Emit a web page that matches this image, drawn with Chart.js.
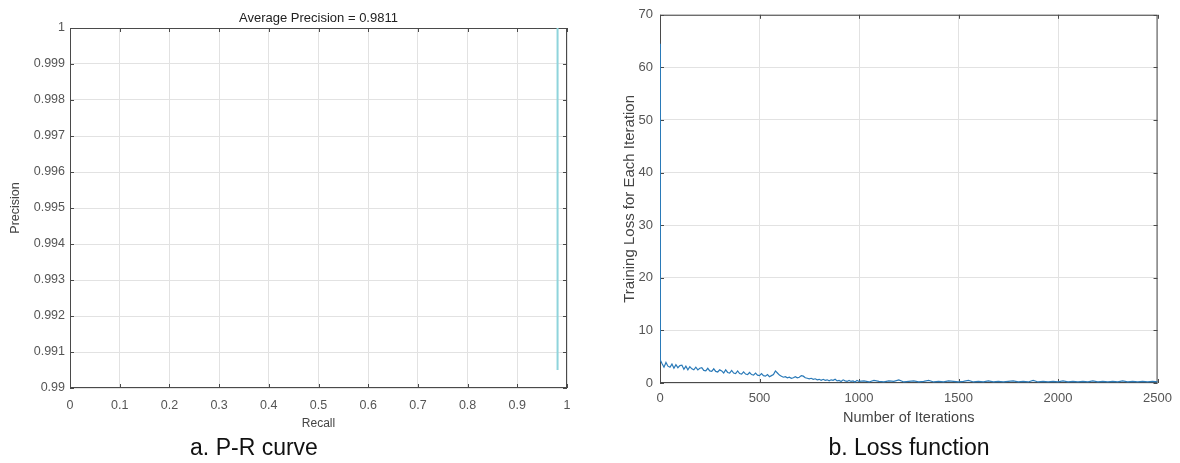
<!DOCTYPE html>
<html>
<head>
<meta charset="utf-8">
<script src="https://cdn.jsdelivr.net/npm/chart.js@4/dist/chart.umd.min.js"></script>
<style>
  body { margin: 0; background: #fff; width: 1180px; height: 463px; overflow: hidden; font-family: "Liberation Sans", Arial, sans-serif; }
  .panel { position: absolute; top: 0; width: 590px; height: 440px; }
  .caption { position: absolute; top: 434px; width: 400px; text-align: center; font-size: 23px; color: #111; }
</style>
</head>
<body>
<div class="panel" style="left:0"><canvas id="prChart" width="590" height="440"></canvas></div>
<div class="panel" style="left:590px"><canvas id="lossChart" width="590" height="440"></canvas></div>
<div class="caption" style="left:54px">a. P-R curve</div>
<div class="caption" style="left:709px">b. Loss function</div>
<script>
// --- DATA ---
const recallTicks = [0, 0.1, 0.2, 0.3, 0.4, 0.5, 0.6, 0.7, 0.8, 0.9, 1];
const precisionTicks = [0.99, 0.991, 0.992, 0.993, 0.994, 0.995, 0.996, 0.997, 0.998, 0.999, 1];
const prRecall = [0.981, 0.981];
const prPrecision = [1, 0.9905];

const iterTicks = [0, 500, 1000, 1500, 2000, 2500];
const lossTicks = [0, 10, 20, 30, 40, 50, 60, 70];
const iterations = [
    0, 2, 10, 20, 30, 40, 50, 60, 70, 80, 90, 100,
    110, 120, 130, 140, 150, 160, 170, 180, 190, 200,
    210, 220, 230, 240, 250, 260, 270, 280, 290, 300,
    310, 320, 330, 340, 350, 360, 370, 380, 390, 400,
    410, 420, 430, 440, 450, 460, 470, 480, 490, 500,
    510, 520, 530, 540, 550, 560, 570, 580, 590, 600,
    610, 620, 630, 640, 650, 660, 670, 680, 690, 700,
    710, 720, 730, 740, 750, 760, 770, 780, 790, 800,
    810, 820, 830, 840, 850, 860, 870, 880, 890, 900,
    910, 920, 930, 940, 950, 960, 970, 980, 990, 1000,
    1025, 1050, 1075, 1100, 1125, 1150, 1175, 1200, 1225, 1250,
    1275, 1300, 1325, 1350, 1375, 1400, 1425, 1450, 1475, 1500,
    1525, 1550, 1575, 1600, 1625, 1650, 1675, 1700, 1725, 1750,
    1775, 1800, 1825, 1850, 1875, 1900, 1925, 1950, 1975, 2000,
    2025, 2050, 2075, 2100, 2125, 2150, 2175, 2200, 2225, 2250,
    2275, 2300, 2325, 2350, 2375, 2400, 2425, 2450, 2475, 2500
];
const losses = [
    64.5, 4.3, 3.7, 3.0, 3.9, 3.2, 3.0, 3.6, 2.8, 3.5, 2.9, 3.3,
    3.4, 2.6, 3.2, 2.5, 3.1, 2.7, 2.5, 3.0, 2.5, 2.8,
    2.9, 2.4, 2.3, 2.8, 2.3, 2.2, 2.7, 2.2, 2.1, 2.5,
    2.3, 1.9, 2.5, 2.0, 1.9, 2.4, 1.9, 1.8, 2.3, 1.8,
    1.7, 2.1, 1.7, 1.6, 2.0, 1.6, 1.5, 1.9, 1.5, 1.4,
    1.8, 1.4, 1.3, 1.6, 1.2, 1.4, 1.6, 2.3, 1.9, 1.5,
    1.3, 1.1, 1.2, 1.0, 1.1, 0.9, 1.0, 1.2, 1.0, 1.1,
    1.4, 1.3, 1.0, 0.9, 0.8, 0.9, 0.7, 0.8, 0.6, 0.7,
    0.5, 0.7, 0.5, 0.6, 0.4, 0.6, 0.5, 0.7, 0.4, 0.5,
    0.3, 0.6, 0.4, 0.3, 0.5, 0.3, 0.4, 0.2, 0.5, 0.3,
    0.4, 0.2, 0.5, 0.3, 0.2, 0.4, 0.3, 0.6, 0.2, 0.3,
    0.4, 0.2, 0.3, 0.5, 0.2, 0.3, 0.2, 0.4, 0.3, 0.2,
    0.3, 0.5, 0.2, 0.3, 0.2, 0.4, 0.2, 0.3, 0.2, 0.3,
    0.4, 0.2, 0.3, 0.2, 0.5, 0.2, 0.3, 0.2, 0.3, 0.2,
    0.4, 0.2, 0.3, 0.2, 0.3, 0.2, 0.4, 0.2, 0.3, 0.2,
    0.3, 0.2, 0.4, 0.2, 0.3, 0.2, 0.3, 0.2, 0.3, 0.2
];

// --- STYLE HELPERS ---
const fontFamily = '"Liberation Sans", Arial, sans-serif';
const tickColor = '#555';
const gridColor = '#e2e2e2';

// box around plot area + small inward ticks (matlab look), drawn under the data
const boxPlugin = {
    id: 'box',
    beforeDatasetsDraw(chart) {
        const { ctx, chartArea: a, scales } = chart;
        ctx.save();
        ctx.strokeStyle = '#4a4a4a';
        ctx.lineWidth = 1;
        ctx.strokeRect(a.left + 0.5, a.top + 0.5, a.right - a.left - 1, a.bottom - a.top - 1);
        ctx.beginPath();
        scales.x.ticks.forEach(t => {
            const px = Math.round(scales.x.getPixelForValue(t.value)) + 0.5;
            ctx.moveTo(px, a.bottom); ctx.lineTo(px, a.bottom - 4);
            ctx.moveTo(px, a.top); ctx.lineTo(px, a.top + 4);
        });
        scales.y.ticks.forEach(t => {
            const py = Math.round(scales.y.getPixelForValue(t.value)) + 0.5;
            ctx.moveTo(a.left, py); ctx.lineTo(a.left + 4, py);
            ctx.moveTo(a.right, py); ctx.lineTo(a.right - 4, py);
        });
        ctx.stroke();
        ctx.restore();
    },
    afterDraw(chart) {
        const title = chart.options.plugins.box.title;
        if (!title) return;
        const { ctx, chartArea: a } = chart;
        ctx.save();
        ctx.fillStyle = '#222';
        ctx.font = '13px ' + fontFamily;
        ctx.textAlign = 'center';
        ctx.textBaseline = 'bottom';
        ctx.fillText(title, (a.left + a.right) / 2, a.top - 3);
        ctx.restore();
    }
};

const makeScale = (min, max, tickList, title, o) => ({
    type: 'linear',
    min: min,
    max: max,
    afterBuildTicks: (s) => { s.ticks = tickList.map(v => ({ value: v })); },
    afterFit: (s) => { if (o.isX) s.height = o.size; else s.width = o.size; },
    ticks: {
        color: tickColor,
        font: { family: fontFamily, size: o.tickSize },
        padding: o.tickPad,
        maxRotation: 0,
        autoSkip: false,
        callback: (v) => String(+v.toFixed(3))
    },
    grid: { color: gridColor, drawTicks: false },
    border: { display: false },
    title: {
        display: true, text: title, color: '#444',
        font: { family: fontFamily, size: o.titleSize },
        padding: o.isX ? { top: 0, bottom: o.titlePad } : { top: o.titlePad, bottom: 0 }
    }
});

// --- P-R CURVE ---
new Chart(document.getElementById('prChart'), {
    type: 'line',
    data: {
        datasets: [{
            data: prRecall.map((r, i) => ({ x: r, y: prPrecision[i] })),
            borderColor: '#8fd4dc',
            borderWidth: 2,
            pointRadius: 0,
            fill: false
        }]
    },
    options: {
        responsive: false,
        animation: false,
        layout: { padding: { top: 28, right: 23, left: 0, bottom: 0 } },
        plugins: { legend: { display: false }, tooltip: { enabled: false }, box: { title: 'Average Precision = 0.9811' } },
        scales: {
            x: makeScale(0, 1, recallTicks, 'Recall', { isX: true, size: 52, tickSize: 12.5, tickPad: 10, titleSize: 12, titlePad: 9 }),
            y: makeScale(0.99, 1, precisionTicks, 'Precision', { isX: false, size: 70, tickSize: 12.5, tickPad: 5, titleSize: 12.5, titlePad: 8 })
        }
    },
    plugins: [boxPlugin]
});

// --- LOSS ---
new Chart(document.getElementById('lossChart'), {
    type: 'line',
    data: {
        datasets: [{
            data: iterations.map((it, i) => ({ x: it, y: losses[i] })),
            borderColor: '#2a7ab8',
            borderWidth: 1.2,
            pointRadius: 0,
            tension: 0,
            fill: false
        }]
    },
    options: {
        responsive: false,
        animation: false,
        layout: { padding: { top: 13, right: 21, left: 0, bottom: 0 } },
        plugins: { legend: { display: false }, tooltip: { enabled: false }, box: { title: '' } },
        scales: {
            x: makeScale(0, 2500, iterTicks, 'Number of Iterations', { isX: true, size: 57, tickSize: 13, tickPad: 8, titleSize: 14.5, titlePad: 13 }),
            y: makeScale(0, 70, lossTicks, 'Training Loss for Each Iteration', { isX: false, size: 70, tickSize: 13, tickPad: 7, titleSize: 15, titlePad: 31 })
        }
    },
    plugins: [boxPlugin]
});
</script>
</body>
</html>
